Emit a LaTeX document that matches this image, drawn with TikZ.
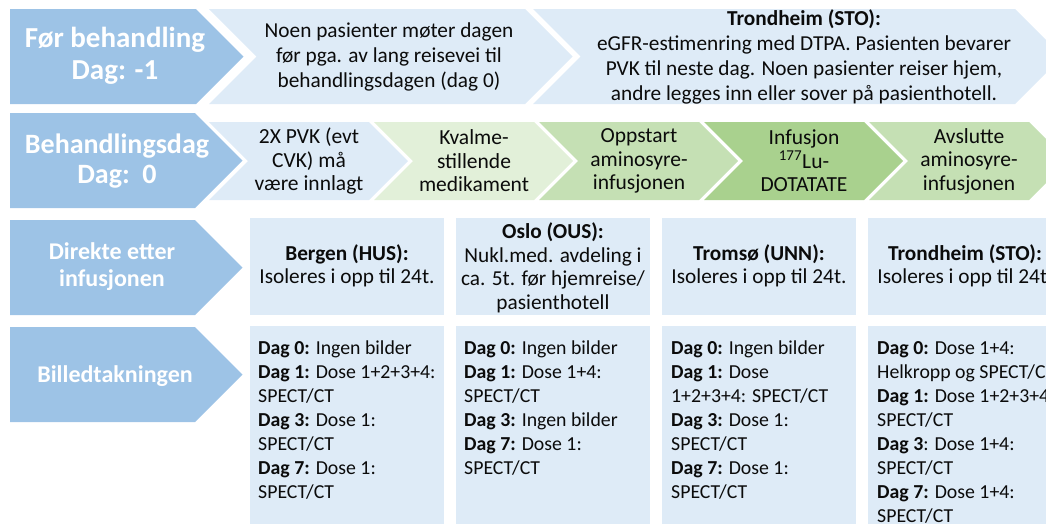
\documentclass[tikz,border=0pt]{standalone}
\usepackage{fontspec}
\setmainfont{Carlito}
\usepackage{tikz}
\definecolor{headblue}{HTML}{9DC3E6}
\definecolor{paleblue}{HTML}{DEEBF7}
\definecolor{palegreen}{HTML}{E2F0D9}
\definecolor{midgreen}{HTML}{C5E0B4}
\definecolor{deepgreen}{HTML}{A9D18E}
\definecolor{inkblack}{HTML}{0B0B0B}
% chevron band: colour, left, top, right end of body, bottom, notch (1/0)
\newcommand{\band}[6]{%
  \pgfmathsetmacro{\bandhalf}{(#5-#3)/2}%
  \fill[#1] (#2,#3) -- (#4,#3) -- (#4+\bandhalf,#3+\bandhalf) -- (#4,#5)
    -- (#2,#5) -- (#2+#6*\bandhalf,#3+\bandhalf) -- cycle;}

\begin{document}
\begin{tikzpicture}[
  x=1pt, y=-1pt,
  every node/.style={inner sep=0pt, text=inkblack},
  head/.style={text=white, align=center, font=\bfseries\fontsize{28}{30}\selectfont},
  info/.style={align=center, font=\fontsize{21.3}{25}\selectfont},
  stepinfo/.style={align=center, font=\fontsize{21.5}{23.5}\selectfont},
  site/.style={align=center, font=\fontsize{21.3}{23.5}\selectfont},
  plan/.style={align=left, anchor=north west, font=\fontsize{19.8}{24}\selectfont},
]
  \path[clip] (0,0) rectangle (1046,523);

  % row 1: day before
  \band{headblue}{10}{9}{196}{104}{0}
  \band{paleblue}{209}{9}{525}{104}{1}
  \band{paleblue}{533}{9}{1015}{104}{1}
  \node[head, font=\bfseries\fontsize{29}{31.5}\selectfont] (before) at (115,56) {Før behandling\\Dag: -1};
  \node[info] (travel) at (389,57) {Noen pasienter møter dagen\\før pga. av lang reisevei til\\behandlingsdagen (dag 0)};
  \node[info] (stoprep) at (804,57) {\textbf{Trondheim (STO):}\\eGFR-estimenring med DTPA. Pasienten bevarer\\PVK til neste dag. Noen pasienter reiser hjem,\\andre legges inn eller sover på pasienthotell.};

  % row 2: treatment day
  \band{headblue}{10}{113}{195}{208}{0}
  \band{paleblue}{209}{122}{369}{200}{1}
  \band{palegreen}{374}{122}{534}{200}{1}
  \band{midgreen}{539}{122}{699}{200}{1}
  \band{deepgreen}{704}{122}{864}{200}{1}
  \band{midgreen}{869}{122}{1029}{200}{1}
  \node[head] (day0) at (117,161) {Behandlingsdag\\Dag:\ \ 0};
  \node[stepinfo] (pvk) at (309,161) {2X PVK (evt\\CVK) må\\være innlagt};
  \node[stepinfo] (nausea) at (474,161) {Kvalme-\\stillende\\medikament};
  \node[stepinfo] (aastart) at (639,161) {Oppstart\\aminosyre-\\infusjonen};
  \node[stepinfo] (lutetium) at (804,161) {Infusjon\\\textsuperscript{177}Lu-\\DOTATATE};
  \node[stepinfo] (aastop) at (969,161) {Avslutte\\aminosyre-\\infusjonen};

  % row 3: right after the infusion
  \band{headblue}{10}{220}{195}{315}{0}
  \foreach \x in {250,456,662,868}
    \fill[paleblue] (\x,218) rectangle (\x+194,315);
  \node[head, font=\bfseries\fontsize{24}{27}\selectfont] (after) at (112,267) {Direkte etter\\infusjonen};
  \node[site] (husiso) at (347,266) {\textbf{Bergen (HUS):}\\Isoleres i opp til 24t.};
  \node[site] (ousiso) at (553,268) {\textbf{Oslo (OUS):}\\Nukl.med. avdeling i\\ca. 5t. før hjemreise/\\pasienthotell};
  \node[site] (unniso) at (759,266) {\textbf{Tromsø (UNN):}\\Isoleres i opp til 24t.};
  \node[site] (stoiso) at (965,266) {\textbf{Trondheim (STO):}\\Isoleres i opp til 24t.};

  % row 4: imaging
  \band{headblue}{10}{327}{195}{422}{0}
  \foreach \x in {250,456,662,868}
    \fill[paleblue] (\x,326) rectangle (\x+194,540);
  \node[head, font=\bfseries\fontsize{24}{27}\selectfont] (imaging) at (115,376) {Billedtakningen};
  \node[plan] (husimg) at (258,341) {\textbf{Dag 0:} Ingen bilder\\\textbf{Dag 1:} Dose 1+2+3+4:\\SPECT/CT\\\textbf{Dag 3:} Dose 1:\\SPECT/CT\\\textbf{Dag 7:} Dose 1:\\SPECT/CT};
  \node[plan] (ousimg) at (464,341) {\textbf{Dag 0:} Ingen bilder\\\textbf{Dag 1:} Dose 1+4:\\SPECT/CT\\\textbf{Dag 3:} Ingen bilder\\\textbf{Dag 7:} Dose 1:\\SPECT/CT};
  \node[plan] (unnimg) at (671,341) {\textbf{Dag 0:} Ingen bilder\\\textbf{Dag 1:} Dose\\1+2+3+4: SPECT/CT\\\textbf{Dag 3:} Dose 1:\\SPECT/CT\\\textbf{Dag 7:} Dose 1:\\SPECT/CT};
  \node[plan] (stoimg) at (877,341) {\textbf{Dag 0:} Dose 1+4:\\Helkropp og SPECT/CT\\\textbf{Dag 1:} Dose 1+2+3+4:\\SPECT/CT\\\textbf{Dag 3}: Dose 1+4:\\SPECT/CT\\\textbf{Dag 7:} Dose 1+4:\\SPECT/CT};
\end{tikzpicture}
\end{document}
